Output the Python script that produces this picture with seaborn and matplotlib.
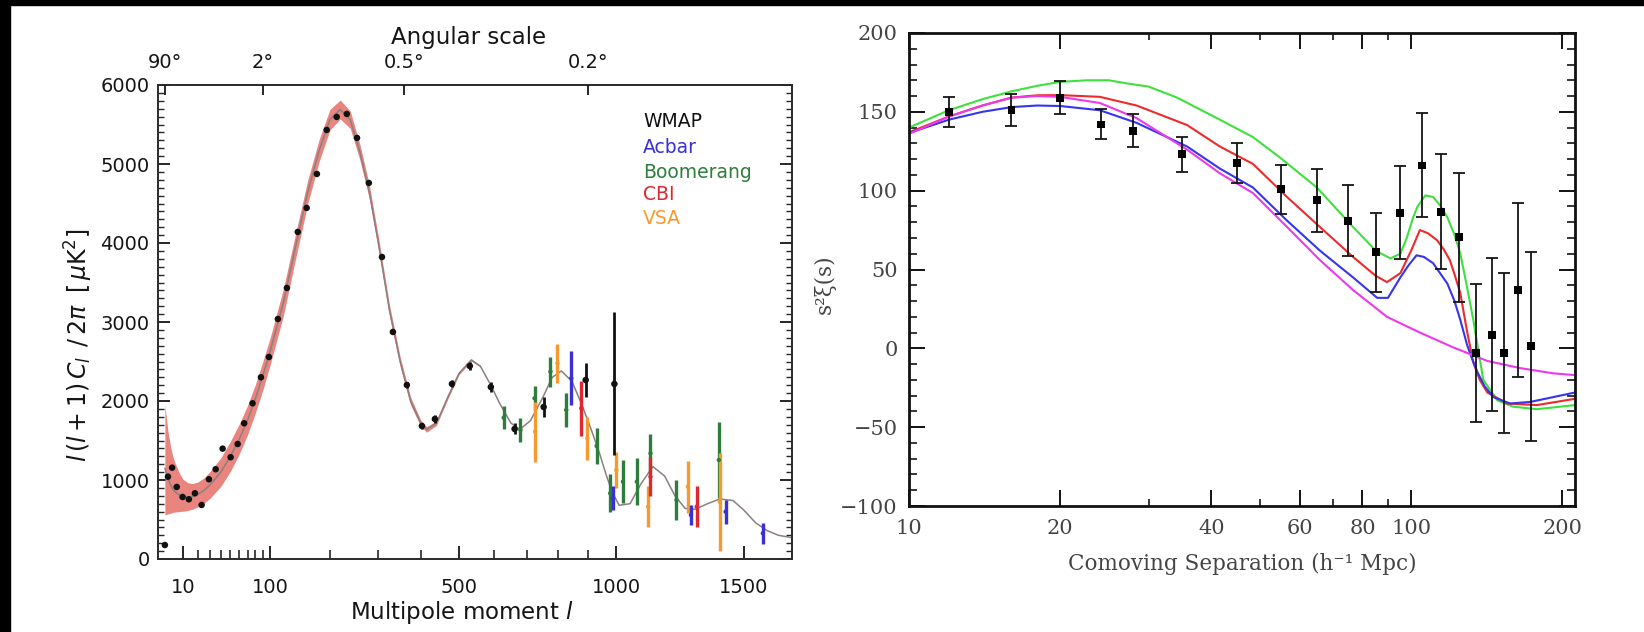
import numpy as np
import pandas as pd
import matplotlib
matplotlib.use("Agg")
import matplotlib.pyplot as plt
import seaborn as sns
from matplotlib.ticker import FixedLocator, MultipleLocator, NullFormatter, FuncFormatter
from matplotlib.patches import Rectangle

# ---------------- Left panel: CMB power spectrum ----------------
wmap_l = [2, 3, 4.6, 6.7, 9.8, 13.6, 17.7, 22.8, 28.9, 35, 41.8, 50.2, 58.1, 65.8, 76.3, 87.4,
          98.5, 111.6, 125.5, 143, 158, 176, 194, 213, 233, 254, 279, 308, 333, 366, 403, 436,
          481, 530, 590, 661, 752, 892, 993]
wmap_d = [177, 1042, 1156, 912, 785, 756, 832, 684, 1009, 1136, 1397, 1288, 1456, 1718, 1971, 2300,
          2557, 3038, 3431, 4140, 4444, 4874, 5431, 5596, 5634, 5330, 4760, 3823, 2874, 2203, 1684, 1772,
          2216, 2443, 2177, 1646, 1924, 2266, 2216]
wmap_err = [0, 0, 0, 0, 0, 0, 0, 0, 0, 0, 0, 0, 0, 0, 0, 0,
            0, 0, 0, 0, 0, 0, 0, 0, 0, 0, 0, 0, 30, 40, 40, 45,
            45, 50, 60, 70, 130, 215, 905]

acbar_l = [843, 988, 1283, 1424, 1582]
acbar_d = [2288, 768, 557, 599, 325]
acbar_err = [340, 150, 130, 150, 130]

boom_l = [628, 679, 723, 774, 826, 930, 978, 1024, 1075, 1126, 1226, 1396]
boom_d = [1789, 1633, 2034, 2371, 1887, 1431, 832, 979, 979, 1338, 747, 1253]
boom_err = [145, 150, 160, 190, 210, 230, 240, 270, 300, 250, 250, 480]

cbi_l = [877, 1126, 1306]
cbi_d = [1908, 1042, 662]
cbi_err = [350, 250, 260]

vsa_l = [725, 797, 898, 1000, 1117, 1271, 1400]
vsa_d = [1612, 2477, 1528, 1127, 662, 915, 725]
vsa_err = [380, 250, 270, 230, 260, 330, 620]

model_l = [2, 3, 4, 5, 6, 8, 10, 13, 16, 20, 25, 30, 40, 50, 60, 70, 80, 90, 100, 120, 140, 160, 180,
           200, 220, 240, 260, 280, 300, 325, 350, 375, 400, 415, 440, 470, 500, 534, 560, 590, 616,
           650, 677, 710, 750, 780, 810, 845, 877, 910, 940, 965, 985, 1010, 1050, 1090, 1135, 1180,
           1220, 1260, 1300, 1350, 1400, 1455, 1500, 1550, 1600, 1650, 1710]
model_d = [1150, 1020, 940, 880, 850, 810, 790, 780, 790, 820, 870, 940, 1100, 1300, 1520, 1760, 2030,
           2320, 2620, 3250, 3980, 4650, 5170, 5560, 5690, 5560, 5150, 4650, 4000, 3150, 2500, 2000,
           1720, 1640, 1720, 2050, 2350, 2520, 2440, 2200, 1970, 1720, 1640, 1750, 2050, 2300, 2380,
           2250, 1970, 1650, 1340, 1050, 850, 680, 700, 950, 1170, 1050, 800, 640, 630, 700, 760, 740,
           620, 460, 360, 300, 270]

band_l = [2, 3, 4, 5, 6, 8, 10, 13, 16, 20, 25, 30, 40, 50, 60, 70, 80, 90, 100, 120, 140, 160, 180,
          200, 220, 240, 260, 280, 300, 325, 350, 375, 400, 415, 440, 470, 500, 534, 560]
band_lo = [560, 570, 580, 590, 595, 600, 605, 615, 630, 660, 710, 770, 920, 1110, 1330, 1575, 1850,
           2140, 2450, 3080, 3820, 4500, 5030, 5430, 5570, 5450, 5050, 4560, 3920, 3080, 2440, 1950,
           1680, 1605, 1690, 2025, 2330, 2505, 2430]
band_hi = [1950, 1620, 1420, 1290, 1210, 1090, 1010, 965, 955, 975, 1030, 1110, 1280, 1490, 1710, 1945,
           2210, 2500, 2790, 3420, 4140, 4800, 5310, 5690, 5810, 5670, 5250, 4740, 4080, 3220, 2560,
           2050, 1760, 1675, 1750, 2075, 2370, 2535, 2450]

legend_names = ["WMAP", "Acbar", "Boomerang", "CBI", "VSA"]
legend_colors = ["#111111", "#3b2fd6", "#2f7d3c", "#e0262e", "#f59a2e"]

top_l = [2, 90, 360, 900]
top_labels = ["90°", "2°", "0.5°", "0.2°"]

# ---------------- Right panel: correlation function ----------------
bao_s = [12.0, 16.0, 20.0, 24.1, 27.9, 35.0, 45.0, 55.1, 65.0, 74.9, 85.2, 95.1, 105.2, 114.8,
         124.7, 134.7, 145.0, 153.2, 163.3, 173.4]
bao_v = [150, 151, 159, 142, 138, 123, 117.5, 101, 94, 81, 61, 86, 116, 86.6, 70.5, -3, 8.6, -3,
         37, 1.3]
bao_err = [9.5, 10, 10.5, 9.5, 10.5, 11, 12.5, 15.5, 20, 22.5, 25, 29.5, 33, 36.5, 41, 43.5, 48.5,
           51, 55, 60]

green_s = [10, 12, 14, 16, 18, 20, 22.6, 25, 27.2, 30, 34.2, 41.6, 48.4, 54.8, 64.9, 76.6, 85.0,
           90.9, 95.2, 98, 100.9, 103, 106.7, 110.6, 114, 118.1, 122, 125.3, 129, 133, 139.2, 148.5,
           159.6, 178, 212]
green_v = [140, 151, 158, 163, 166.5, 169, 170, 170, 168, 166, 159, 145, 134, 121, 102, 77, 62,
           57, 60, 70, 83, 90, 97, 96, 91, 83, 72, 60, 40, 18, -20, -33, -37, -38.6, -36]
red_s = [10, 12, 14, 16, 18, 20, 24, 28.4, 35.8, 41.6, 48.4, 56.6, 65.8, 76.6, 85.0, 89.5, 95.2,
         100, 104.1, 108, 112.6, 116, 119.4, 122, 125.3, 129, 133, 137, 141.8, 155.3, 178, 212]
red_v = [137, 147, 154, 159, 160.5, 160.6, 159.5, 154, 141.6, 128, 117, 96, 77, 58, 46, 42, 47.7,
         62, 75, 73, 68.6, 63, 56, 47, 35, 12, -9, -20, -28, -35, -36, -32]
blue_s = [10, 12, 14, 16, 18, 20, 24, 28.4, 35.8, 41.6, 48.4, 56.6, 65.8, 76.6, 85.6, 89.9, 95.2,
          99, 102.5, 106, 110.6, 114, 118.1, 122, 125.3, 129.3, 132, 135.5, 140, 145.9, 157.5,
          172.6, 191.4, 212]
blue_v = [136.6, 145, 150, 153, 154, 153.7, 151, 143, 128, 114, 102, 81, 62, 45, 32, 32, 45, 53,
          59, 58, 54, 48, 41, 30, 18, 2, -6, -15, -24, -31, -35, -34, -31, -28]
mag_s = [10, 12, 14, 16, 18, 20, 24, 28.4, 35.8, 41.6, 48.4, 56.6, 65.8, 76.6, 89.5, 92.2, 104.1,
         121.3, 141.8, 164.6, 191.4, 212]
mag_v = [136, 147, 154, 159, 160, 159.5, 155.6, 146, 126, 111, 98.5, 77, 56, 37, 20, 18, 10, 0.6,
         -8, -12.5, -15.8, -17]

right_xticks = [10, 20, 40, 60, 80, 100, 200]
right_xminor = [30, 50, 70, 90]

# ---------------- Figure ----------------
sns.set_theme(style="ticks")
plt.rcParams["font.family"] = ["DejaVu Sans"]
plt.rcParams["mathtext.fontset"] = "dejavusans"

fig = plt.figure(figsize=(16.44, 6.32), dpi=100, facecolor="white")
W, H = 1644, 632
axL = fig.add_axes([158 / W, 1 - 559 / H, 634 / W, 474 / H])
axR = fig.add_axes([909 / W, 1 - 506 / H, 666 / W, 473 / H])


def fwd(x):
    x = np.asarray(x, dtype=float)
    return np.sign(x) * np.abs(x) ** 0.6


def inv(y):
    y = np.asarray(y, dtype=float)
    return np.sign(y) * np.abs(y) ** (1 / 0.6)


# ----- left -----
axL.set_xscale("function", functions=(fwd, inv))
axL.set_facecolor("white")
axL.fill_between(band_l, band_lo, band_hi, color="#e9847f", lw=0, zorder=1)
sns.lineplot(x=model_l, y=model_d, ax=axL, color="#8a8080", lw=1.1, estimator=None, sort=False,
             zorder=2)

exp_sets = [(boom_l, boom_d, boom_err, legend_colors[2]),
            (vsa_l, vsa_d, vsa_err, legend_colors[4]),
            (acbar_l, acbar_d, acbar_err, legend_colors[1]),
            (cbi_l, cbi_d, cbi_err, legend_colors[3])]
for ll, dd, ee, cc in exp_sets:
    axL.errorbar(ll, dd, yerr=ee, fmt="none", ecolor=cc, elinewidth=2.4, capsize=0, zorder=3)
    sns.scatterplot(x=ll, y=dd, ax=axL, color=cc, s=10, edgecolor="none", zorder=4)

axL.errorbar(wmap_l, wmap_d, yerr=wmap_err, fmt="none", ecolor="#111111", elinewidth=2.0,
             capsize=0, zorder=5)
sns.scatterplot(x=wmap_l, y=wmap_d, ax=axL, color="#111111", s=22, edgecolor="none", zorder=6)

axL.set_xlim(0.4, 1710)
axL.set_ylim(0, 6000)
axL.xaxis.set_major_locator(FixedLocator([10, 100, 500, 1000, 1500]))
axL.xaxis.set_minor_locator(FixedLocator([20, 30, 40, 50, 60, 70, 80, 90, 200, 300, 400, 600,
                                          700, 800, 900]))
axL.xaxis.set_major_formatter(FuncFormatter(lambda v, p: f"{v:g}"))
axL.xaxis.set_minor_formatter(NullFormatter())
axL.yaxis.set_major_locator(MultipleLocator(1000))
axL.yaxis.set_minor_locator(MultipleLocator(100))
axL.yaxis.set_major_formatter(FuncFormatter(lambda v, p: f"{v:.0f}"))
axL.tick_params(axis="x", which="major", direction="in", length=9.5, width=1.3, top=False,
                bottom=True, pad=14, labelsize=14, colors="#151515")
axL.tick_params(axis="x", which="minor", direction="in", length=6.5, width=1.2, top=False,
                bottom=True)
axL.tick_params(axis="y", which="major", direction="in", length=8.5, width=1.3, left=True,
                right=True, pad=6, labelsize=14, colors="#151515")
axL.tick_params(axis="y", which="minor", direction="in", length=4.3, width=1.0, left=True,
                right=True)
for sp in axL.spines.values():
    sp.set_color("#2a2a2a")
    sp.set_linewidth(1.4)
axL.set_xlabel(r"Multipole moment $l$", fontsize=16.5, color="#151515")
axL.xaxis.set_label_coords(0.48, -0.085)
axL.set_ylabel(r"$l\,(l+1)\,C_l\;\,/\,2\pi\;\;[\,\mu \mathrm{K}^2]$", fontsize=17,
               color="#151515")
axL.yaxis.set_label_coords(-0.1, 0.45)

axT = axL.twiny()
axT.set_xscale("function", functions=(fwd, inv))
axT.set_xlim(axL.get_xlim())
axT.xaxis.set_major_locator(FixedLocator(top_l))
axT.set_xticklabels(top_labels)
axT.xaxis.set_minor_locator(FixedLocator([]))
axT.tick_params(axis="x", which="major", direction="in", length=7, width=1.3, top=True,
                bottom=False, pad=9, labelsize=14, colors="#151515")
axT.set_xlabel("Angular scale", fontsize=16.5, color="#151515")
axT.xaxis.set_label_coords(0.49, 1.101)
axT.xaxis.label.set_va("center")
for sp in axT.spines.values():
    sp.set_visible(False)

ypos = [0.922, 0.869, 0.816, 0.768, 0.719]
for name, col, yy in zip(legend_names, legend_colors, ypos):
    axL.text(0.765, yy, name, transform=axL.transAxes, color=col, fontsize=13.5,
             va="center", ha="left")

# ----- right -----
axR.set_xscale("log")
axR.set_facecolor("white")
curves = pd.concat([
    pd.DataFrame({"s": green_s, "v": green_v, "model": "green"}),
    pd.DataFrame({"s": red_s, "v": red_v, "model": "red"}),
    pd.DataFrame({"s": blue_s, "v": blue_v, "model": "blue"}),
    pd.DataFrame({"s": mag_s, "v": mag_v, "model": "magenta"}),
], ignore_index=True)
pal = {"green": "#3ee03e", "red": "#ee2a2a", "blue": "#3535ee", "magenta": "#ee38ee"}
sns.lineplot(data=curves, x="s", y="v", hue="model", palette=pal, ax=axR, legend=False,
             estimator=None, sort=False, lw=1.5, zorder=2)
axR.errorbar(bao_s, bao_v, yerr=bao_err, fmt="none", ecolor="#151515", elinewidth=1.3,
             capsize=4, capthick=1.3, zorder=3)
sns.scatterplot(x=bao_s, y=bao_v, ax=axR, marker="s", color="black", s=32, edgecolor="none",
                zorder=4)
axR.set_xlim(10, 212)
axR.set_ylim(-100, 200)
axR.xaxis.set_major_locator(FixedLocator(right_xticks))
axR.xaxis.set_minor_locator(FixedLocator(right_xminor))
axR.xaxis.set_major_formatter(FuncFormatter(lambda v, p: f"{v:g}"))
axR.xaxis.set_minor_formatter(NullFormatter())
axR.yaxis.set_major_locator(MultipleLocator(50))
axR.yaxis.set_minor_locator(MultipleLocator(10))
axR.yaxis.set_major_formatter(FuncFormatter(lambda v, p: f"{v:.0f}".replace("-", "\u2212")))
serif = ["DejaVu Serif"]
axR.tick_params(axis="both", which="major", direction="in", length=11.5, width=1.4, top=True,
                right=True, labelsize=15, colors="#111111", labelcolor="#444444")
axR.tick_params(axis="x", which="major", pad=9)
axR.tick_params(axis="y", which="major", pad=8)
axR.tick_params(axis="y", which="minor", direction="in", length=6, width=1.3, left=True,
                right=True)
axR.tick_params(axis="x", which="minor", direction="in", length=5, width=1.3, top=True,
                bottom=True)
for lab in axR.get_xticklabels() + axR.get_yticklabels():
    lab.set_family(serif)
for sp in axR.spines.values():
    sp.set_color("#111111")
    sp.set_linewidth(2.0)
axR.set_xlabel("Comoving Separation (h\u207b\u00b9 Mpc)", fontsize=15.5, color="#444444",
               family=serif)
axR.xaxis.set_label_coords(0.5, -0.1)
axR.set_ylabel("s\u00b2\u03be(s)", fontsize=15.5, color="#444444", family=serif)
axR.yaxis.set_label_coords(-0.11, 0.47)

# black strips at the image border
fig.patches.append(Rectangle((0, 0), 10 / W, 1, transform=fig.transFigure, color="black",
                             zorder=10))
fig.patches.append(Rectangle((0, 1 - 5 / H), 1, 5 / H, transform=fig.transFigure,
                             color="black", zorder=10))

fig.savefig("out.png", dpi=100, facecolor="white")
